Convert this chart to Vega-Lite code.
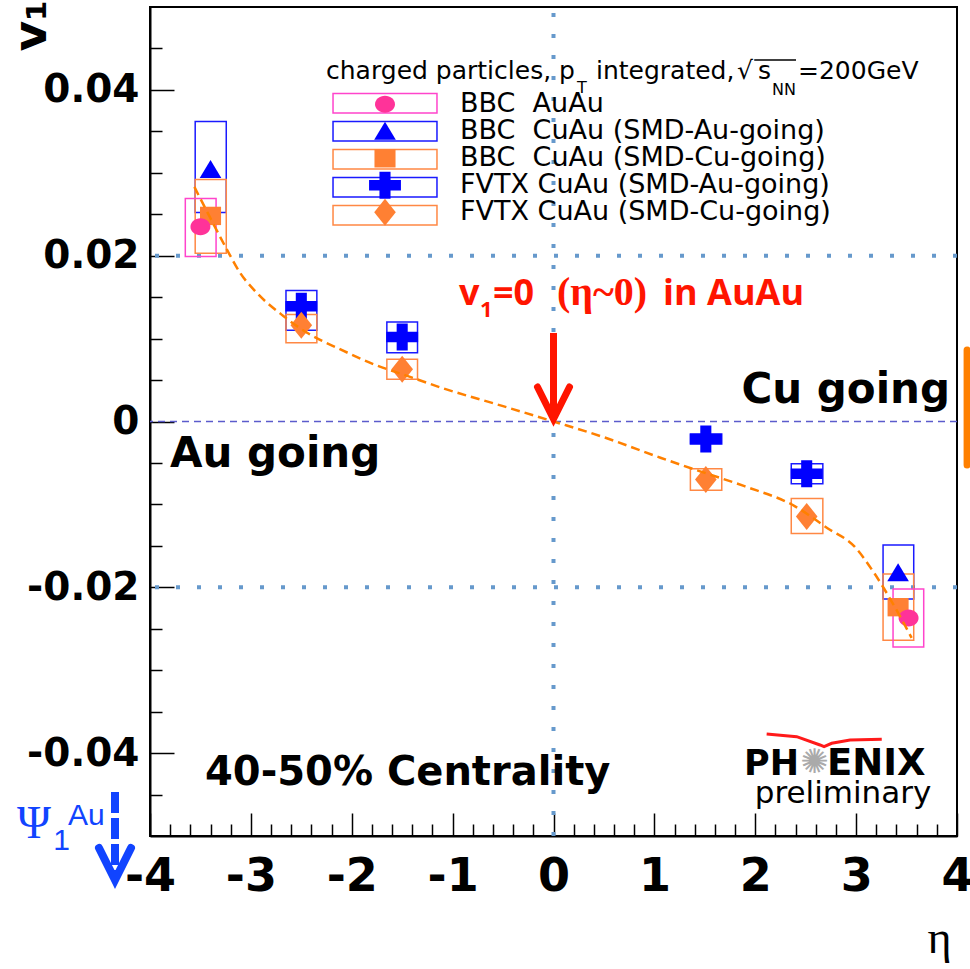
{
  "$schema": "https://vega.github.io/schema/vega-lite/v6.json",
  "width": 807,
  "height": 829,
  "autosize": {"type": "none"},
  "padding": {"left": 150, "top": 7, "right": 13, "bottom": 133},
  "background": "white",
  "config": {"view": {"stroke": "black", "strokeWidth": 2}, "axis": {"grid": false}},
  "datasets": {
    "points": [
      {"series": "BBC\u00a0\u00a0CuAu (SMD-Au-going)", "eta": -3.40, "v1": 0.0304, "elo": -3.552, "ehi": -3.244, "slo": 0.0252, "shi": 0.0362},
      {"series": "BBC\u00a0\u00a0CuAu (SMD-Au-going)", "eta": 3.416, "v1": -0.01825, "elo": 3.267, "ehi": 3.571, "slo": -0.0214, "shi": -0.0149},
      {"series": "BBC\u00a0\u00a0CuAu (SMD-Cu-going)", "eta": -3.40, "v1": 0.0248, "elo": -3.552, "ehi": -3.244, "slo": 0.0203, "shi": 0.0292},
      {"series": "BBC\u00a0\u00a0CuAu (SMD-Cu-going)", "eta": 3.416, "v1": -0.0224, "elo": 3.267, "ehi": 3.571, "slo": -0.0264, "shi": -0.0184},
      {"series": "FVTX CuAu (SMD-Au-going)", "eta": -2.5, "v1": 0.0139, "elo": -2.652, "ehi": -2.346, "slo": 0.0110, "shi": 0.0158},
      {"series": "FVTX CuAu (SMD-Au-going)", "eta": -1.5, "v1": 0.0102, "elo": -1.652, "ehi": -1.348, "slo": 0.0083, "shi": 0.0120},
      {"series": "FVTX CuAu (SMD-Au-going)", "eta": 1.51, "v1": -0.0021, "elo": 1.357, "ehi": 1.668, "slo": -0.0027, "shi": -0.0015},
      {"series": "FVTX CuAu (SMD-Au-going)", "eta": 2.51, "v1": -0.0063, "elo": 2.357, "ehi": 2.67, "slo": -0.0075, "shi": -0.0051},
      {"series": "FVTX CuAu (SMD-Cu-going)", "eta": -2.5, "v1": 0.0116, "elo": -2.652, "ehi": -2.346, "slo": 0.0095, "shi": 0.0129},
      {"series": "FVTX CuAu (SMD-Cu-going)", "eta": -1.5, "v1": 0.0063, "elo": -1.652, "ehi": -1.348, "slo": 0.0051, "shi": 0.0075},
      {"series": "FVTX CuAu (SMD-Cu-going)", "eta": 1.51, "v1": -0.0070, "elo": 1.357, "ehi": 1.668, "slo": -0.0083, "shi": -0.0057},
      {"series": "FVTX CuAu (SMD-Cu-going)", "eta": 2.51, "v1": -0.01145, "elo": 2.357, "ehi": 2.67, "slo": -0.0135, "shi": -0.0093},
      {"series": "BBC\u00a0\u00a0AuAu", "eta": -3.50, "v1": 0.0235, "elo": -3.65, "ehi": -3.345, "slo": 0.0199, "shi": 0.0269},
      {"series": "BBC\u00a0\u00a0AuAu", "eta": 3.52, "v1": -0.0237, "elo": 3.366, "ehi": 3.67, "slo": -0.0272, "shi": -0.0202}
    ],
    "fit": [
      {"eta": -3.56, "v1": 0.0283},
      {"eta": -3.40, "v1": 0.0245},
      {"eta": -3.24, "v1": 0.0208},
      {"eta": -3.105, "v1": 0.0179},
      {"eta": -2.94, "v1": 0.0155},
      {"eta": -2.675, "v1": 0.0127},
      {"eta": -2.443, "v1": 0.0107},
      {"eta": -2.112, "v1": 0.0087},
      {"eta": -1.781, "v1": 0.0069},
      {"eta": -1.45, "v1": 0.0055},
      {"eta": -1.119, "v1": 0.0041},
      {"eta": -0.5, "v1": 0.00185},
      {"eta": 0, "v1": 0},
      {"eta": 0.5, "v1": -0.0019},
      {"eta": 1.067, "v1": -0.0044},
      {"eta": 1.5, "v1": -0.0062},
      {"eta": 1.893, "v1": -0.0078},
      {"eta": 2.39, "v1": -0.0102},
      {"eta": 2.72, "v1": -0.0129},
      {"eta": 2.985, "v1": -0.0151},
      {"eta": 3.18, "v1": -0.0183},
      {"eta": 3.38, "v1": -0.0223},
      {"eta": 3.55, "v1": -0.0261}
    ]
  },
  "resolve": {"axis": {"x": "independent", "y": "independent"}},
  "layer": [
    {
      "data": {"values": [{"v": 0}]},
      "mark": {"type": "rule", "stroke": "#5b5bcc", "strokeWidth": 1.5, "strokeDash": [7, 5]},
      "encoding": {"y": {"field": "v", "type": "quantitative", "axis": null}}
    },
    {
      "data": {"values": [{"v": 0.02}, {"v": -0.02}]},
      "mark": {"type": "rule", "stroke": "#6699cc", "strokeWidth": 4, "strokeDash": [4, 17]},
      "encoding": {"y": {"field": "v", "type": "quantitative", "axis": null}}
    },
    {
      "data": {"values": [{"x": 0, "lo": -0.05, "hi": 0.0508}]},
      "mark": {"type": "rule", "stroke": "#6699cc", "strokeWidth": 4, "strokeDash": [4, 17]},
      "encoding": {
        "x": {"field": "x", "type": "quantitative", "axis": null},
        "y": {"field": "lo", "type": "quantitative", "axis": null},
        "y2": {"field": "hi"}
      }
    },
    {
      "data": {"name": "points"},
      "mark": {"type": "rect", "fill": "transparent", "strokeWidth": 1.5},
      "encoding": {
        "x": {"field": "elo", "type": "quantitative", "axis": null},
        "x2": {"field": "ehi"},
        "y": {"field": "slo", "type": "quantitative", "axis": null},
        "y2": {"field": "shi"},
        "stroke": {
          "field": "series", "type": "nominal",
          "scale": {"range": ["#ff44cc", "#1a1aff", "#ff8844", "#1a1aff", "#ff8844"]},
          "legend": {"orient": "none", "legendX": 220.5, "legendY": 81.8, "title": null, "symbolType": "M-3.85,-0.72H3.85V0.72H-3.85Z", "symbolSize": 729, "symbolStrokeWidth": 1.5, "symbolFillColor": "transparent", "labelExpr": "' '", "labelFontSize": 26, "rowPadding": -0.5, "gridAlign": "all", "padding": 0}
        }
      }
    },
    {
      "data": {"name": "points"},
      "mark": {"type": "point", "filled": true, "opacity": 1, "size": 729, "strokeWidth": 0},
      "encoding": {
        "x": {
          "field": "eta", "type": "quantitative",
          "scale": {"domain": [-4, 4], "nice": false, "zero": false},
          "axis": {"orient": "bottom", "values": [-4, -3, -2, -1, 0, 1, 2, 3, 4], "labelExpr": "replace(format(datum.value, 'd'), '\u2212', '-')", "tickSize": -23, "tickWidth": 1.5, "tickColor": "black", "domainColor": "black", "domainWidth": 2, "labelFont": "DejaVu Sans", "labelFontWeight": "bold", "labelFontSize": 46, "labelColor": "black", "labelPadding": 41, "labelFlush": false, "labelOverlap": false, "labelBaseline": "top", "grid": false, "title": "η", "titleFont": "Liberation Serif", "titleFontWeight": "normal", "titleFontSize": 46, "titleColor": "black", "titleX": 789, "titleY": 116, "titleAlign": "center", "titleBaseline": "alphabetic"}
        },
        "y": {
          "field": "v1", "type": "quantitative",
          "scale": {"domain": [-0.05, 0.05], "nice": false, "zero": false},
          "axis": {"orient": "left", "values": [-0.04, -0.02, 0, 0.02, 0.04], "labelExpr": "replace(format(datum.value, '.2~f'), '\u2212', '-')", "tickSize": -24, "tickWidth": 1.5, "tickColor": "black", "domainColor": "black", "domainWidth": 2, "labelFont": "DejaVu Sans", "labelFontWeight": "bold", "labelFontSize": 39, "labelColor": "black", "labelPadding": 35, "labelOverlap": false, "grid": false, "title": "v\u2081", "titleFont": "DejaVu Sans", "titleFontWeight": "bold", "titleFontSize": 47, "titleColor": "black", "titleAngle": 270, "titleX": -105, "titleY": 44, "titleAlign": "left", "titleBaseline": "alphabetic"}
        },
        "fill": {
          "field": "series", "type": "nominal",
          "scale": {"domain": ["BBC\u00a0\u00a0AuAu", "BBC\u00a0\u00a0CuAu (SMD-Au-going)", "BBC\u00a0\u00a0CuAu (SMD-Cu-going)", "FVTX CuAu (SMD-Au-going)", "FVTX CuAu (SMD-Cu-going)"], "range": ["#ff3399", "#0000ff", "#ff8033", "#0000ff", "#ff8033"]},
          "legend": {"orient": "none", "legendX": 221.5, "legendY": 83.8, "title": null, "symbolSize": 729, "symbolStrokeWidth": 0, "labelFont": "DejaVu Sans", "labelFontSize": 27, "labelColor": "black", "labelOffset": 61.5, "labelLimit": 0, "rowPadding": -1, "gridAlign": "all", "padding": 0}
        },
        "shape": {
          "field": "series", "type": "nominal",
          "scale": {"domain": ["BBC\u00a0\u00a0AuAu", "BBC\u00a0\u00a0CuAu (SMD-Au-going)", "BBC\u00a0\u00a0CuAu (SMD-Cu-going)", "FVTX CuAu (SMD-Au-going)", "FVTX CuAu (SMD-Cu-going)"], "range": ["M-0.74,0A0.74,0.63,0,1,0,0.74,0A0.74,0.63,0,1,0,-0.74,0Z", "M0,-0.7L0.8,0.63L-0.8,0.63Z", "M-0.78,-0.68H0.78V0.68H-0.78Z", "M-0.41,-1H0.41V-0.39H1.18V0.39H0.41V1H-0.41V0.39H-1.18V-0.39H-0.41Z", "M0,-1L0.8,0L0,1L-0.8,0Z"]},
          "legend": {"orient": "none", "legendX": 221.5, "legendY": 83.8, "title": null, "symbolSize": 729, "symbolStrokeWidth": 0, "labelFont": "DejaVu Sans", "labelFontSize": 27, "labelColor": "black", "labelOffset": 61.5, "labelLimit": 0, "rowPadding": -1, "gridAlign": "all", "padding": 0}
        }
      }
    },
    {
      "data": {"name": "fit"},
      "mark": {"type": "line", "interpolate": "monotone", "stroke": "#ff8000", "strokeWidth": 2.5, "strokeDash": [9, 5]},
      "encoding": {
        "x": {"field": "eta", "type": "quantitative", "axis": {"orient": "bottom", "values": [-3.8, -3.6, -3.4, -3.2, -2.8, -2.6, -2.4, -2.2, -1.8, -1.6, -1.4, -1.2, -0.8, -0.6, -0.4, -0.2, 0.2, 0.4, 0.6, 0.8, 1.2, 1.4, 1.6, 1.8, 2.2, 2.4, 2.6, 2.8, 3.2, 3.4, 3.6, 3.8], "tickSize": -12, "tickWidth": 1.5, "tickColor": "black", "labels": false, "domain": false, "grid": false, "title": null}},
        "y": {"field": "v1", "type": "quantitative", "axis": {"orient": "left", "values": [-0.045, -0.035, -0.03, -0.025, -0.015, -0.01, -0.005, 0.005, 0.01, 0.015, 0.025, 0.03, 0.035, 0.045], "tickSize": -12, "tickWidth": 1.5, "tickColor": "black", "labels": false, "domain": false, "grid": false, "title": null}}
      }
    },
    {
      "data": {"values": [{"x": 0, "lo": 0.0009, "hi": 0.01068}]},
      "mark": {"type": "rule", "stroke": "#ff1500", "strokeWidth": 7},
      "encoding": {
        "x": {"field": "x", "type": "quantitative", "axis": null},
        "y": {"field": "lo", "type": "quantitative", "axis": null},
        "y2": {"field": "hi"}
      }
    },
    {
      "data": {"values": [{"x": 0, "y": 0.0003}]},
      "mark": {"type": "point", "shape": "M-1,-2L0,0L1,-2", "size": 1024, "filled": false, "stroke": "#ff1500", "strokeWidth": 7, "strokeCap": "round", "opacity": 1},
      "encoding": {
        "x": {"field": "x", "type": "quantitative", "axis": null},
        "y": {"field": "y", "type": "quantitative", "axis": null}
      }
    },
    {
      "data": {"values": [{"t": "v", "x": -0.937, "y": 0.01405}, {"t": "=0", "x": -0.600, "y": 0.01405}, {"t": "in AuAu", "x": 1.086, "y": 0.01405}]},
      "mark": {"type": "text", "align": "left", "baseline": "alphabetic", "font": "Open Sans", "fontWeight": "bold", "fontSize": 36, "color": "#ff1500"},
      "encoding": {
        "x": {"field": "x", "type": "quantitative", "axis": null},
        "y": {"field": "y", "type": "quantitative", "axis": null},
        "text": {"field": "t"}
      }
    },
    {
      "data": {"values": [{"t": "1", "x": -0.729, "y": 0.01261}]},
      "mark": {"type": "text", "align": "left", "baseline": "alphabetic", "font": "Open Sans", "fontWeight": "bold", "fontSize": 22, "color": "#ff1500"},
      "encoding": {
        "x": {"field": "x", "type": "quantitative", "axis": null},
        "y": {"field": "y", "type": "quantitative", "axis": null},
        "text": {"field": "t"}
      }
    },
    {
      "data": {"values": [{"t": "(η~0)", "x": 0.035, "y": 0.01405}]},
      "mark": {"type": "text", "align": "left", "baseline": "alphabetic", "font": "Liberation Serif", "fontWeight": "bold", "fontSize": 40, "color": "#ff1500"},
      "encoding": {
        "x": {"field": "x", "type": "quantitative", "axis": null},
        "y": {"field": "y", "type": "quantitative", "axis": null},
        "text": {"field": "t"}
      }
    },
    {
      "data": {"values": [{"t": "Au going", "x": -3.802, "y": -0.00549}]},
      "mark": {"type": "text", "align": "left", "baseline": "alphabetic", "font": "DejaVu Sans", "fontWeight": "bold", "fontSize": 42, "color": "black"},
      "encoding": {
        "x": {"field": "x", "type": "quantitative", "axis": null},
        "y": {"field": "y", "type": "quantitative", "axis": null},
        "text": {"field": "t"}
      }
    },
    {
      "data": {"values": [{"t": "Cu going", "x": 3.931, "y": 0.00223}]},
      "mark": {"type": "text", "align": "right", "baseline": "alphabetic", "font": "DejaVu Sans", "fontWeight": "bold", "fontSize": 42, "color": "black"},
      "encoding": {
        "x": {"field": "x", "type": "quantitative", "axis": null},
        "y": {"field": "y", "type": "quantitative", "axis": null},
        "text": {"field": "t"}
      }
    },
    {
      "data": {"values": [{"t": "40-50% Centrality", "x": -3.455, "y": -0.04385}]},
      "mark": {"type": "text", "align": "left", "baseline": "alphabetic", "font": "DejaVu Sans", "fontWeight": "bold", "fontSize": 40, "color": "black"},
      "encoding": {
        "x": {"field": "x", "type": "quantitative", "axis": null},
        "y": {"field": "y", "type": "quantitative", "axis": null},
        "text": {"field": "t"}
      }
    },
    {
      "data": {"values": [{"t": "charged particles, p", "x": -2.255, "y": 0.04131}, {"t": "integrated,", "x": 0.421, "y": 0.04131}, {"t": "√", "x": 1.819, "y": 0.04131}, {"t": "s", "x": 2.027, "y": 0.04131}, {"t": "=200GeV", "x": 2.424, "y": 0.04131}]},
      "mark": {"type": "text", "align": "left", "baseline": "alphabetic", "font": "DejaVu Sans", "fontSize": 25, "color": "black"},
      "encoding": {
        "x": {"field": "x", "type": "quantitative", "axis": null},
        "y": {"field": "y", "type": "quantitative", "axis": null},
        "text": {"field": "t"}
      }
    },
    {
      "data": {"values": [{"t": "T", "x": 0.233, "y": 0.03962}, {"t": "NN", "x": 2.166, "y": 0.03935}]},
      "mark": {"type": "text", "align": "left", "baseline": "alphabetic", "font": "DejaVu Sans", "fontSize": 16, "color": "black"},
      "encoding": {
        "x": {"field": "x", "type": "quantitative", "axis": null},
        "y": {"field": "y", "type": "quantitative", "axis": null},
        "text": {"field": "t"}
      }
    },
    {
      "data": {"values": [{"x": 1.99, "x2": 2.404, "y": 0.0436}]},
      "mark": {"type": "rule", "stroke": "black", "strokeWidth": 1.5},
      "encoding": {
        "x": {"field": "x", "type": "quantitative", "axis": null},
        "x2": {"field": "x2"},
        "y": {"field": "y", "type": "quantitative", "axis": null}
      }
    },
    {
      "data": {"values": [{"t": "Ψ", "x": -5.150, "y": -0.05024}]},
      "mark": {"type": "text", "align": "center", "baseline": "alphabetic", "font": "Liberation Serif", "fontSize": 46, "color": "#1144ff"},
      "encoding": {
        "x": {"field": "x", "type": "quantitative", "axis": null},
        "y": {"field": "y", "type": "quantitative", "axis": null},
        "text": {"field": "t"}
      }
    },
    {
      "data": {"values": [{"t": "1", "x": -4.877, "y": -0.05169}]},
      "mark": {"type": "text", "align": "center", "baseline": "alphabetic", "font": "Liberation Sans", "fontSize": 30, "color": "#1144ff"},
      "encoding": {
        "x": {"field": "x", "type": "quantitative", "axis": null},
        "y": {"field": "y", "type": "quantitative", "axis": null},
        "text": {"field": "t"}
      }
    },
    {
      "data": {"values": [{"t": "Au", "x": -4.813, "y": -0.04867}]},
      "mark": {"type": "text", "align": "left", "baseline": "alphabetic", "font": "Liberation Sans", "fontSize": 30, "color": "#1144ff"},
      "encoding": {
        "x": {"field": "x", "type": "quantitative", "axis": null},
        "y": {"field": "y", "type": "quantitative", "axis": null},
        "text": {"field": "t"}
      }
    },
    {
      "data": {"values": [{"x": -4.347, "lo": -0.05434, "hi": -0.04469}]},
      "mark": {"type": "rule", "stroke": "#1144ff", "strokeWidth": 8, "strokeDash": [21, 5]},
      "encoding": {
        "x": {"field": "x", "type": "quantitative", "axis": null},
        "y": {"field": "hi", "type": "quantitative", "axis": null},
        "y2": {"field": "lo"}
      }
    },
    {
      "data": {"values": [{"x": -4.347, "y": -0.05531}]},
      "mark": {"type": "point", "shape": "M-1,-2L0,0L1,-2", "size": 1024, "filled": false, "stroke": "#1144ff", "strokeWidth": 8, "strokeCap": "round", "opacity": 1},
      "encoding": {
        "x": {"field": "x", "type": "quantitative", "axis": null},
        "y": {"field": "y", "type": "quantitative", "axis": null}
      }
    },
    {
      "data": {"values": [{"x": 2.113, "y": -0.0377}, {"x": 2.411, "y": -0.03802}, {"x": 2.642, "y": -0.03902}, {"x": 2.682, "y": -0.03923}, {"x": 2.758, "y": -0.03882}, {"x": 2.94, "y": -0.03842}, {"x": 3.254, "y": -0.03834}]},
      "mark": {"type": "line", "stroke": "#ff1a1a", "strokeWidth": 3},
      "encoding": {
        "x": {"field": "x", "type": "quantitative", "axis": null},
        "y": {"field": "y", "type": "quantitative", "axis": null}
      }
    },
    {
      "data": {"values": [{"t": "PH", "x": 2.434, "y": -0.04264}]},
      "mark": {"type": "text", "align": "right", "baseline": "alphabetic", "font": "DejaVu Sans", "fontWeight": "bold", "fontSize": 35, "color": "black"},
      "encoding": {
        "x": {"field": "x", "type": "quantitative", "axis": null},
        "y": {"field": "y", "type": "quantitative", "axis": null},
        "text": {"field": "t"}
      }
    },
    {
      "data": {"values": [{"t": "ENIX", "x": 2.711, "y": -0.04264}]},
      "mark": {"type": "text", "align": "left", "baseline": "alphabetic", "font": "DejaVu Sans", "fontWeight": "bold", "fontSize": 37, "color": "black"},
      "encoding": {
        "x": {"field": "x", "type": "quantitative", "axis": null},
        "y": {"field": "y", "type": "quantitative", "axis": null},
        "text": {"field": "t"}
      }
    },
    {
      "data": {"values": [{"t": "✺", "x": 2.587, "y": -0.04119}]},
      "mark": {"type": "text", "align": "center", "baseline": "middle", "font": "DejaVu Sans", "fontSize": 34, "color": "#aaaaaa"},
      "encoding": {
        "x": {"field": "x", "type": "quantitative", "axis": null},
        "y": {"field": "y", "type": "quantitative", "axis": null},
        "text": {"field": "t"}
      }
    },
    {
      "data": {"values": [{"t": "preliminary", "x": 2.87, "y": -0.04602}]},
      "mark": {"type": "text", "align": "center", "baseline": "alphabetic", "font": "DejaVu Sans", "fontSize": 31, "color": "black"},
      "encoding": {
        "x": {"field": "x", "type": "quantitative", "axis": null},
        "y": {"field": "y", "type": "quantitative", "axis": null},
        "text": {"field": "t"}
      }
    },
    {
      "data": {"values": [{"x": 4.10, "lo": -0.00525, "hi": 0.00862}]},
      "mark": {"type": "rule", "stroke": "#ff8000", "strokeWidth": 7, "strokeCap": "round"},
      "encoding": {
        "x": {"field": "x", "type": "quantitative", "axis": null},
        "y": {"field": "lo", "type": "quantitative", "axis": null},
        "y2": {"field": "hi"}
      }
    }
  ]
}
